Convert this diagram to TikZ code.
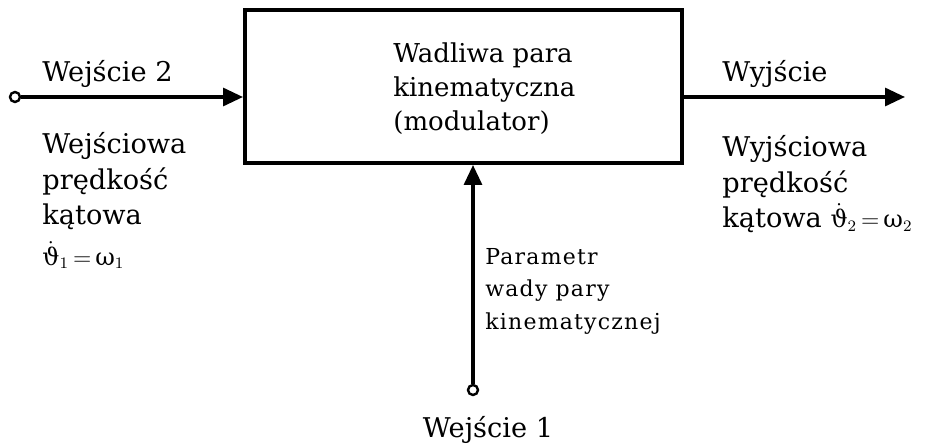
\documentclass[tikz,border=0pt]{standalone}
\usepackage{fontspec}
\setmainfont{DejaVu Serif}
\newfontfamily\paramfont[LetterSpace=5.5]{DejaVu Serif}
\usetikzlibrary{arrows.meta, positioning}

% angular velocity, dotted theta equal to omega
\newcommand{\angvel}[1]{{\fontsize{12}{17.8}\selectfont
    $\dot{\hbox{ϑ}}_{#1}\,{=}\,\hbox{ω}_{#1}$}}

\begin{document}
\begin{tikzpicture}[
    x=0.5pt, y=-0.5pt,
    every node/.style={font=\fontsize{13.6}{17.8}\selectfont},
    block/.style={rectangle, draw, line width=2pt,
                  minimum width=218.5pt, minimum height=76.5pt},
    caption/.style={anchor=north west, align=left, inner sep=0pt},
    signal/.style={line width=1.6pt, -{Triangle[length=10pt,width=9pt]}},
    terminal/.style={circle, draw, line width=1.2pt, inner sep=0pt,
                     minimum size=5pt, fill=white}
]
    \useasboundingbox (0,0) rectangle (928,444);

    % Modulator block
    \node[block] (modulator) at (463.5,86.5) {};
    \node[caption, font=\fontsize{13}{17}\selectfont] (title) at (393,42)
        {Wadliwa para\\kinematyczna\\(modulator)};

    % Terminals
    \node[terminal] (in2) at (15,97) {};
    \node[terminal] (in1) at (473,390) {};
    \coordinate (out) at (905,97);

    % Signals
    \draw[signal] (in2) -- (modulator.west |- in2);
    \draw[signal] (modulator.east |- in2) -- (out);
    \draw[signal] (in1) -- (in1 |- modulator.south);

    % Labels
    \node[caption] (win2) at (42,60) {Wejście 2};
    \node[caption] (omega1) at (42,132)
        {Wejściowa\\prędkość\\kątowa\\[2.5pt]\angvel{1}};
    \node[caption] (wout) at (722,60) {Wyjście};
    \node[caption] (omega2) at (722,135)
        {Wyjściowa\\prędkość\\kątowa \angvel{2}};
    \node[caption, font={\paramfont\fontsize{11}{16.2}\selectfont}] (param) at (485,248)
        {Parametr\\wady pary\\kinematycznej};
    \node[anchor=north, inner sep=0pt] (win1) at (488,416) {Wejście 1};
\end{tikzpicture}
\end{document}
